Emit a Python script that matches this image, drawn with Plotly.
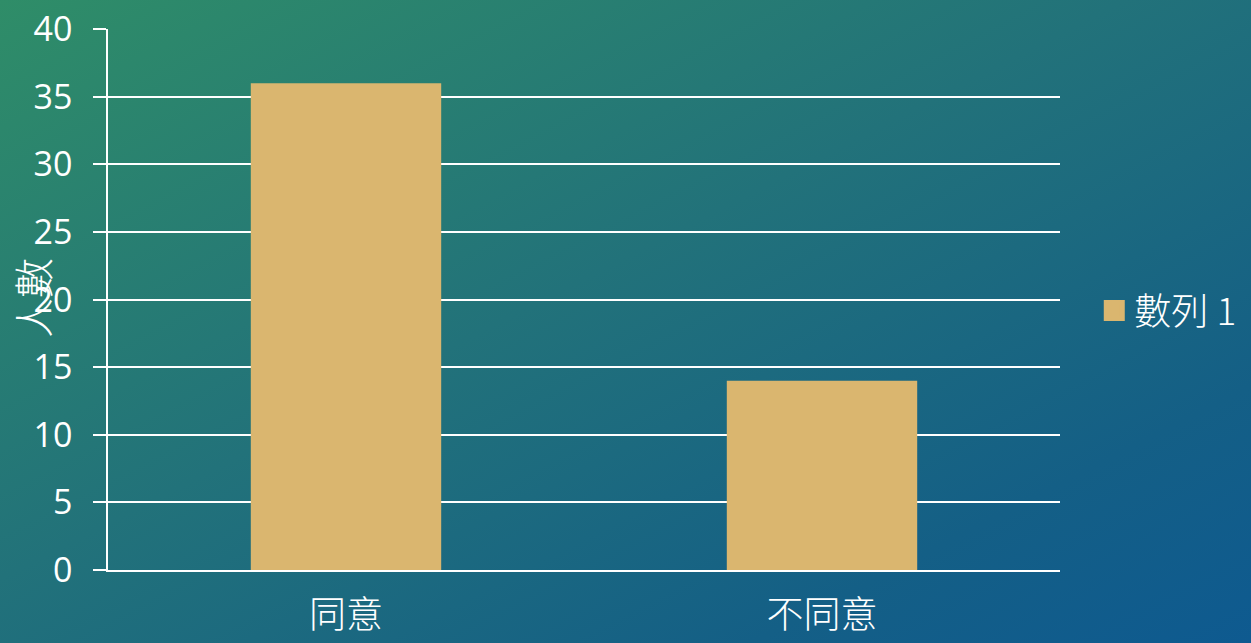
import base64
import plotly.graph_objects as go

categories = ["同意", "不同意"]
values = [36, 14]
series_name = "數列 1"
y_title = "人數"
y_ticks = [0, 5, 10, 15, 20, 25, 30, 35, 40]

W, H = 1251, 643
L, R, T, B = 108, 191, 29, 73
pw, ph = W - L - R, H - T - B

svg = f'''<svg xmlns="http://www.w3.org/2000/svg" width="{W}" height="{H}" viewBox="0 0 {W} {H}" preserveAspectRatio="none">
<defs>
<linearGradient id="g" x1="0" y1="0" x2="1" y2="1">
<stop offset="0" stop-color="#2f8d68"/>
<stop offset="0.45" stop-color="#22727a"/>
<stop offset="0.8" stop-color="#145f86"/>
<stop offset="1" stop-color="#0e5a90"/>
</linearGradient>
</defs>
<rect width="{W}" height="{H}" fill="url(#g)"/>
</svg>'''
bg = "data:image/svg+xml;base64," + base64.b64encode(svg.encode()).decode()

bar_color = "#dab66f"
font_cjk = "Noto Sans CJK TC, Noto Sans, sans-serif"
fig = go.Figure()
fig.add_trace(go.Bar(
    x=categories, y=values, name=series_name,
    marker=dict(color=bar_color, line=dict(width=0)),
    width=0.4, showlegend=False,
))
# legend entry with a larger square swatch
fig.add_trace(go.Scatter(
    x=[None], y=[None], mode="markers", name=series_name,
    marker=dict(symbol="square", size=16, color=bar_color,
                line=dict(color=bar_color, width=5)),
    showlegend=True, hoverinfo="skip",
))

fig.update_layout(
    width=W, height=H,
    margin=dict(l=L, r=R, t=T, b=B, pad=0, autoexpand=False),
    paper_bgcolor="#1f6b7a",
    plot_bgcolor="rgba(0,0,0,0)",
    font=dict(family=font_cjk, color="white"),
    images=[dict(source=bg, xref="paper", yref="paper",
                 x=-L / pw, y=1 + T / ph, sizex=W / pw, sizey=H / ph,
                 xanchor="left", yanchor="top", sizing="stretch", layer="below")],
    showlegend=True,
    legend=dict(x=1.036, y=0.479, xanchor="left", yanchor="middle",
                font=dict(size=37, color="white", family=font_cjk, weight=300),
                bgcolor="rgba(0,0,0,0)", itemsizing="trace"),
    annotations=[dict(text=y_title, xref="paper", yref="paper",
                      x=(32 - L) / pw, y=(H - B - 298) / ph,
                      xanchor="center", yanchor="middle", textangle=-90,
                      showarrow=False,
                      font=dict(size=40, color="white", family=font_cjk, weight=300))],
)

fig.update_yaxes(
    range=[0, 40.02], tickvals=y_ticks, showgrid=True, gridcolor="white", gridwidth=1.5,
    zeroline=False, showline=True, linecolor="white", linewidth=1.5,
    ticks="outside", ticklen=13, tickcolor="white", tickwidth=1.5,
    ticklabelstandoff=14, automargin=False,
    tickfont=dict(size=34, color="white", family="Open Sans, Noto Sans, sans-serif"),
)
fig.update_xaxes(
    showgrid=False, showline=True, linecolor="white", linewidth=2,
    ticks="", ticklabelstandoff=12, automargin=False,
    tickfont=dict(size=37, color="white", family=font_cjk, weight=300),
)

fig.write_html("out.html", config={"displayModeBar": False},
               post_script="document.body.style.margin='0';document.body.style.padding='0';")
